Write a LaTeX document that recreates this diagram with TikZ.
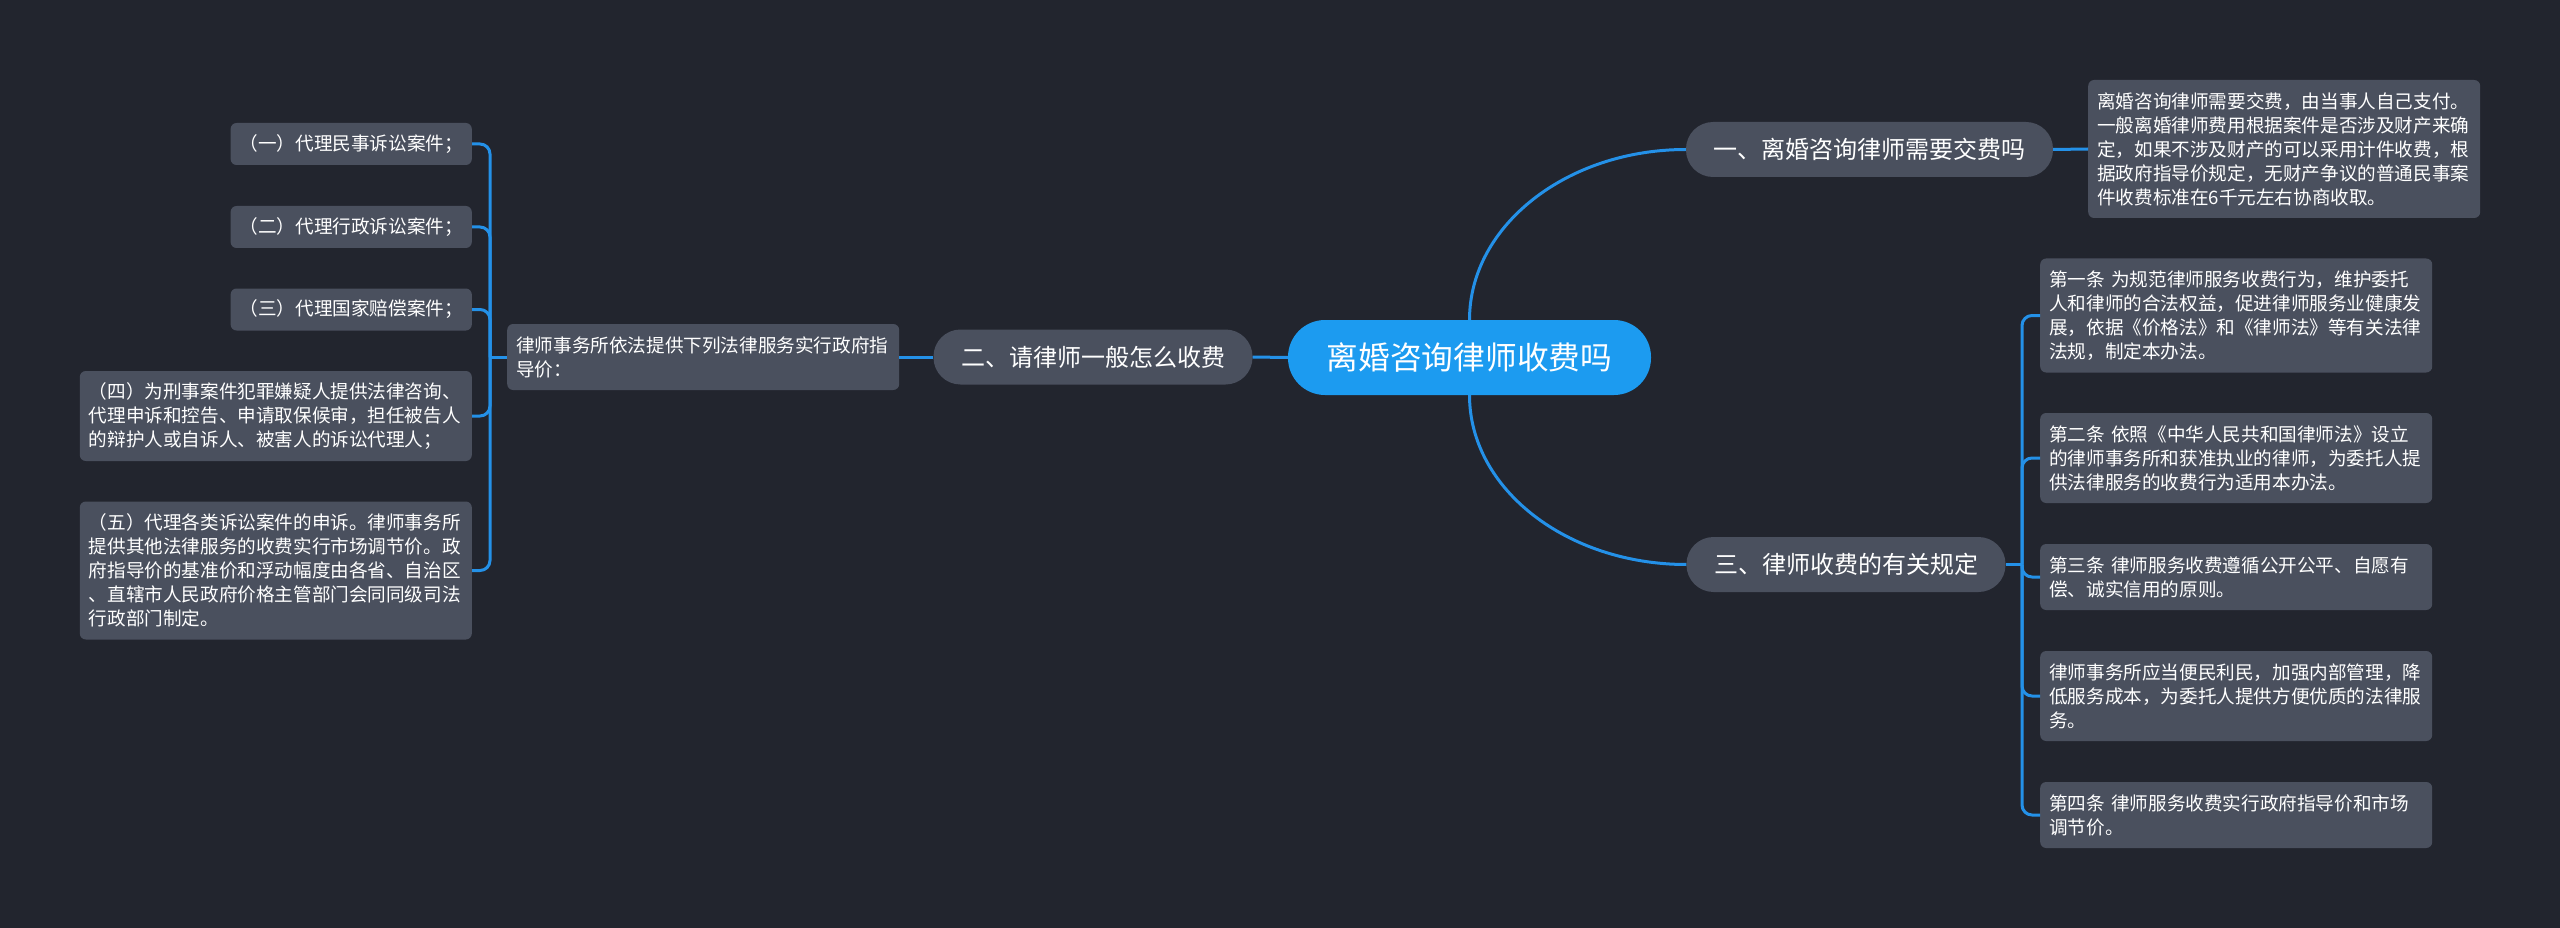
\documentclass[tikz,border=0pt]{standalone}
\usepackage{fontspec}
\newfontfamily\cjk{Noto Sans CJK SC}
\definecolor{bgc}{HTML}{22252E}
\definecolor{nodegray}{HTML}{4A505E}
\definecolor{rootblue}{HTML}{1C9BF0}
\definecolor{linkblue}{HTML}{2491E8}
\begin{document}
\begin{tikzpicture}[x=1pt,y=-1pt,
  leaf/.style={fill=nodegray, rounded corners=6pt, text=white,
    font=\cjk\fontsize{18.6}{24}\selectfont, inner xsep=9pt, inner ysep=0pt,
    align=left, anchor=west},
  wideleaf/.style={leaf, text width=374pt},
  branchnode/.style={fill=nodegray, rounded corners=27pt, minimum height=55pt,
    inner xsep=27.5pt, inner ysep=0pt, text=white, font=\cjk\fontsize{24}{28}\selectfont},
  rootnode/.style={fill=rootblue, rounded corners=37pt, minimum height=75pt,
    minimum width=363pt, inner sep=0pt, text=white, font=\cjk\fontsize{31.7}{36}\selectfont},
  link/.style={draw=linkblue, line width=3pt},
  bracket/.style={link, rounded corners=10pt}]
\fill[bgc] (0,0) rectangle (2560,928);
\useasboundingbox (0,0) rectangle (2560,928);

% root and branches
\node[rootnode] (root) at (1469.5,357.5) {离婚咨询律师收费吗};
\node[branchnode] (b1) at (1869.5,149.5) {一、离婚咨询律师需要交费吗};
\node[branchnode] (b2) at (1093,357) {二、请律师一般怎么收费};
\node[branchnode] (b3) at (1846,564.5) {三、律师收费的有关规定};

% branch 1 leaf
\node[wideleaf, minimum height=138pt] (l1) at (2088,149) {离婚咨询律师需要交费，由当事人自己支付。\\一般离婚律师费用根据案件是否涉及财产来确\\定，如果不涉及财产的可以采用计件收费，根\\据政府指导价规定，无财产争议的普通民事案\\件收费标准在6千元左右协商收取。};

% branch 3 leaves
\node[wideleaf, minimum height=114pt] (r1) at (2040,315.5) {第一条 为规范律师服务收费行为，维护委托\\人和律师的合法权益，促进律师服务业健康发\\展，依据《价格法》和《律师法》等有关法律\\法规，制定本办法。};
\node[wideleaf, minimum height=90pt] (r2) at (2040,458) {第二条 依照《中华人民共和国律师法》设立\\的律师事务所和获准执业的律师，为委托人提\\供法律服务的收费行为适用本办法。};
\node[wideleaf, minimum height=66pt] (r3) at (2040,577) {第三条 律师服务收费遵循公开公平、自愿有\\偿、诚实信用的原则。};
\node[wideleaf, minimum height=90pt] (r4) at (2040,696) {律师事务所应当便民利民，加强内部管理，降\\低服务成本，为委托人提供方便优质的法律服\\务。};
\node[wideleaf, minimum height=66pt] (r5) at (2040,815) {第四条 律师服务收费实行政府指导价和市场\\调节价。};

% branch 2 leaves
\node[wideleaf, minimum height=66pt] (lp) at (507,357) {律师事务所依法提供下列法律服务实行政府指\\导价：};
\node[leaf, anchor=east, minimum height=42pt] (a1) at (472,144) {（一）代理民事诉讼案件；};
\node[leaf, anchor=east, minimum height=42pt] (a2) at (472,227) {（二）代理行政诉讼案件；};
\node[leaf, anchor=east, minimum height=42pt] (a3) at (472,309.5) {（三）代理国家赔偿案件；};
\node[wideleaf, anchor=east, minimum height=90pt] (a4) at (472,416) {（四）为刑事案件犯罪嫌疑人提供法律咨询、\\代理申诉和控告、申请取保候审，担任被告人\\的辩护人或自诉人、被害人的诉讼代理人；};
\node[wideleaf, anchor=east, minimum height=138pt] (a5) at (472,570.5) {（五）代理各类诉讼案件的申诉。律师事务所\\提供其他法律服务的收费实行市场调节价。政\\府指导价的基准价和浮动幅度由各省、自治区\\、直辖市人民政府价格主管部门会同同级司法\\行政部门制定。};

% connectors
\draw[link] (root.north) .. controls ([yshift=94pt]root.north) and ([xshift=-119pt]b1.west) .. (b1.west);
\draw[link] (root.south) .. controls ([yshift=-94pt]root.south) and ([xshift=-119pt]b3.west) .. (b3.west);
\draw[link] (root.west) -- (b2.east);
\draw[link] (b1.east) -- (l1.west);
\draw[link] (b2.west) -- (lp.east);

\coordinate (jl) at (490,357);
\draw[link] (lp.west) -- (jl);
\foreach \c in {a1,a2,a3,a4,a5} \draw[bracket] (jl) |- (\c.east);

\coordinate (jr) at (2022,564.5);
\draw[link] (b3.east) -- (jr);
\foreach \c in {r1,r2,r3,r4,r5} \draw[bracket] (jr) |- (\c.west);
\end{tikzpicture}
\end{document}
